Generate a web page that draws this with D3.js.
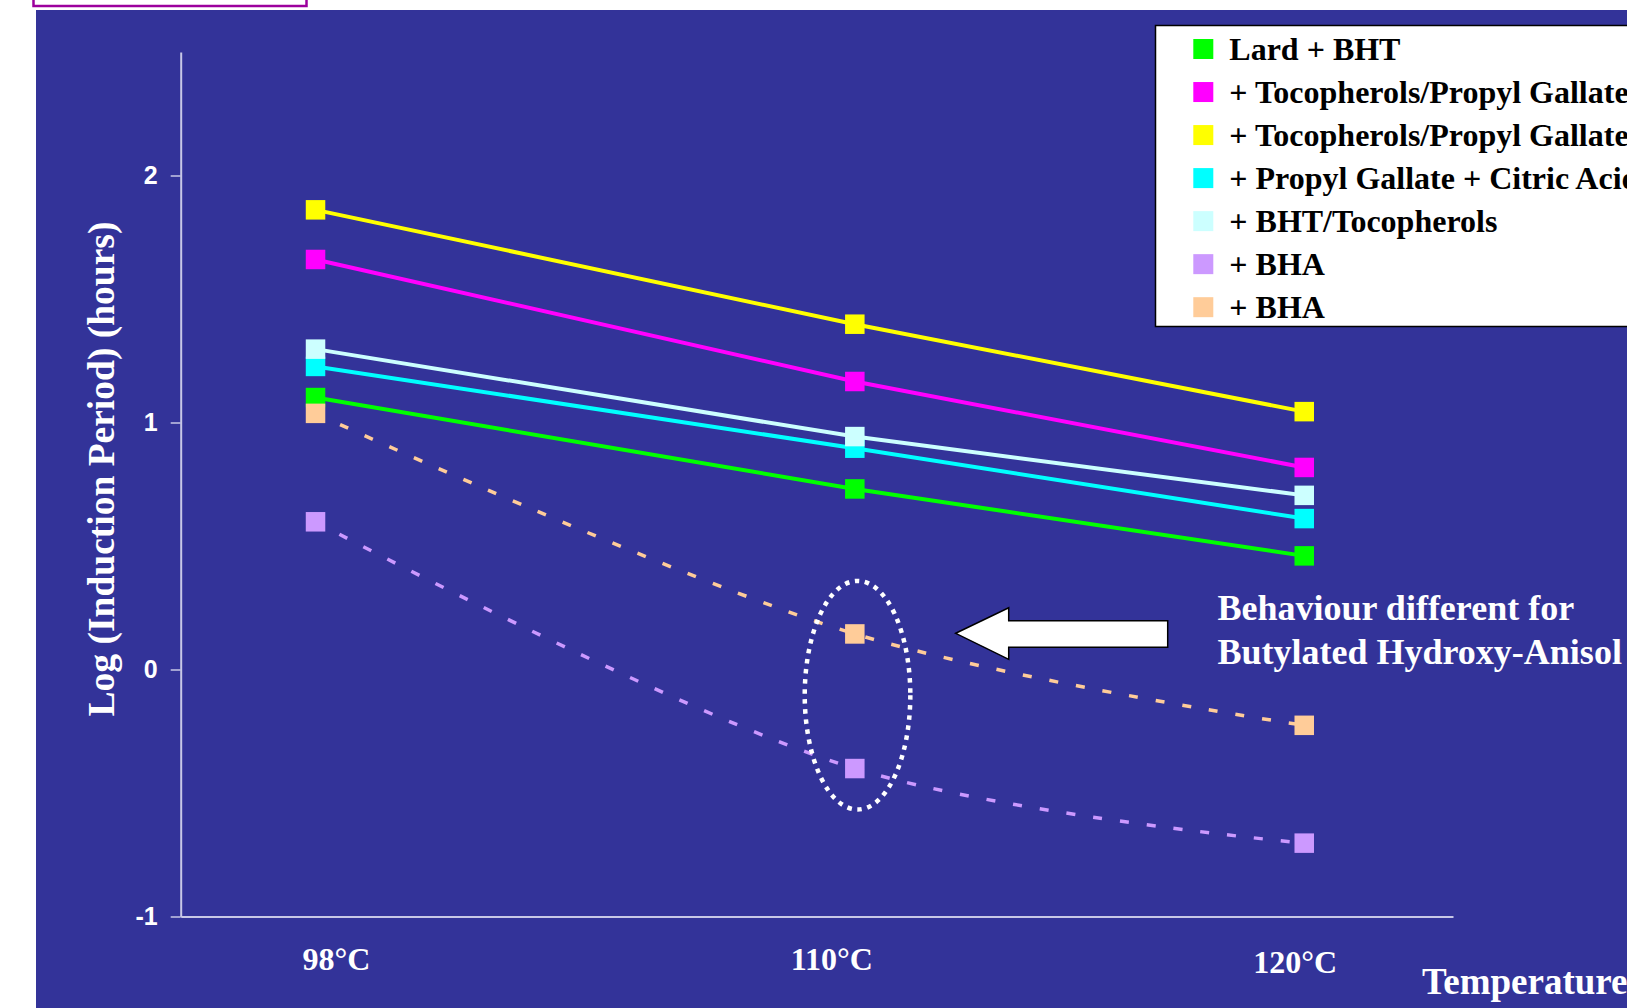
<!DOCTYPE html>
<html>
<head>
<meta charset="utf-8">
<script src="https://cdn.jsdelivr.net/npm/d3@7"></script>
<style>
  html, body { margin: 0; padding: 0; background: #ffffff; overflow: hidden; }
  svg { display: block; }
</style>
</head>
<body>
<svg id="chart" width="1627" height="1008"></svg>
<script>
// Induction temperatures (°C) and log induction period (hours) per antioxidant system
const temperatures = [98, 110, 120];
const tempLabels = ["98°C", "110°C", "120°C"];
const yTicks = [-1, 0, 1, 2];

const seriesNames = [
  "Lard + BHT",
  "+ Tocopherols/Propyl Gallate",
  "+ Tocopherols/Propyl Gallate",
  "+ Propyl Gallate + Citric Acid",
  "+ BHT/Tocopherols",
  "+ BHA",
  "+ BHA"
];
const seriesColors = ["#00ff00", "#ff00ff", "#ffff00", "#00ffff", "#ccffff", "#cc99ff", "#ffcc99"];
const seriesDashed = [false, false, false, false, false, true, true];

const lardBHT      = [1.101, 0.731, 0.460];
const tocoPG1      = [1.660, 1.166, 0.818];
const tocoPG2      = [1.861, 1.398, 1.044];
const pgCitric     = [1.227, 0.896, 0.611];
const bhtToco      = [1.297, 0.943, 0.705];
const bhaLow       = [0.598, -0.401, -0.703];
const bhaHigh      = [1.037, 0.144, -0.226];
const seriesValues = [lardBHT, tocoPG1, tocoPG2, pgCitric, bhtToco, bhaLow, bhaHigh];

const annotationLines = ["Behaviour different for", "Butylated Hydroxy-Anisol"];

// ---- layout ----
const W = 1627, H = 1008;
const BG = "#333399";
const serif = "'Liberation Serif', 'Times New Roman', serif";
const sans = "'Liberation Sans', Arial, sans-serif";
const axisColor = "#c8c8e6";
const tempLabelOffsets = [21, -23, -9];   // label centres relative to their temperature
const tempLabelBaselines = [970, 970, 973];

const svg = d3.select("#chart");

// small framed box peeking in at the top-left
svg.append("rect")
  .attr("x", 33.5).attr("y", -10).attr("width", 273).attr("height", 16)
  .attr("fill", "#ffffff").attr("stroke", "#9c009c").attr("stroke-width", 2.5);

// slide panel
svg.append("rect")
  .attr("x", 36).attr("y", 10).attr("width", W - 36).attr("height", H - 10)
  .attr("fill", BG);

const x = d3.scaleLinear().domain([95, 123.31]).range([180.7, 1453]);
const y = d3.scaleLinear().domain([-1, 2.5]).range([916.5, 52]);

// y axis
const yAxis = svg.append("g")
  .attr("transform", `translate(${x(95)},0)`)
  .call(d3.axisLeft(y).tickValues(yTicks).tickSize(10).tickSizeOuter(0).tickPadding(13)
    .tickFormat(d3.format("d")));
yAxis.select(".domain").attr("stroke", axisColor).attr("stroke-width", 2);
yAxis.selectAll(".tick line").attr("stroke", axisColor).attr("stroke-width", 1.5);
yAxis.selectAll(".tick text")
  .attr("fill", "#ffffff").attr("font-family", sans).attr("font-weight", "bold")
  .attr("font-size", 25).text(d => d < 0 ? "-" + Math.abs(d) : d);

// x axis (line only)
const xAxis = svg.append("g")
  .attr("transform", `translate(0,${y(-1)})`)
  .call(d3.axisBottom(x).tickValues([]).tickSizeOuter(0));
xAxis.select(".domain").attr("stroke", axisColor).attr("stroke-width", 2);

// temperature labels
svg.append("g").selectAll("text")
  .data(temperatures)
  .join("text")
  .attr("x", (d, i) => x(d) + tempLabelOffsets[i])
  .attr("y", (d, i) => tempLabelBaselines[i])
  .attr("text-anchor", "middle")
  .attr("fill", "#ffffff").attr("font-family", serif).attr("font-weight", "bold")
  .attr("font-size", 32)
  .text((d, i) => tempLabels[i]);

svg.append("text")
  .attr("x", 1422).attr("y", 994)
  .attr("fill", "#ffffff").attr("font-family", serif).attr("font-weight", "bold")
  .attr("font-size", 37)
  .text("Temperature");

// y axis title
svg.append("text")
  .attr("transform", "translate(114,469) rotate(-90)")
  .attr("text-anchor", "middle")
  .attr("fill", "#ffffff").attr("font-family", serif).attr("font-weight", "bold")
  .attr("font-size", 37.5)
  .text("Log (Induction Period) (hours)");

// series
const solidLine = d3.line().x(d => x(d.t)).y(d => y(d.v));
const smoothLine = d3.line().x(d => x(d.t)).y(d => y(d.v)).curve(d3.curveCatmullRom.alpha(0.5));
const markerSize = 19.5;

seriesValues.forEach((vals, i) => {
  const pts = vals.map((v, j) => ({ t: temperatures[j], v }));
  const g = svg.append("g").attr("class", "series");
  g.append("path")
    .attr("d", seriesDashed[i] ? smoothLine(pts) : solidLine(pts))
    .attr("fill", "none")
    .attr("stroke", seriesColors[i])
    .attr("stroke-width", seriesDashed[i] ? 3.5 : 4)
    .attr("stroke-dasharray", seriesDashed[i] ? "9,18" : null);
  g.selectAll("rect")
    .data(pts)
    .join("rect")
    .attr("x", d => x(d.t) - markerSize / 2)
    .attr("y", d => y(d.v) - markerSize / 2)
    .attr("width", markerSize).attr("height", markerSize)
    .attr("fill", seriesColors[i]);
});

// dotted ring around the 110°C BHA points
svg.append("ellipse")
  .attr("cx", x(110.06)).attr("cy", y(-0.104))
  .attr("rx", 52.8).attr("ry", 114.3)
  .attr("fill", "none").attr("stroke", "#ffffff")
  .attr("stroke-width", 4.5).attr("stroke-dasharray", "4.5,5.6");

// block arrow pointing at the ring
const arrowPts = [
  [955.7, 633.3], [1008.7, 607.7], [1008.7, 620.7], [1167.7, 620.7],
  [1167.7, 647.3], [1008.7, 647.3], [1008.7, 659.3]
];
svg.append("path")
  .attr("d", d3.line()(arrowPts) + "Z")
  .attr("fill", "#ffffff").attr("stroke", "#000000").attr("stroke-width", 1.5)
  .attr("stroke-linejoin", "miter");

// annotation text
svg.append("g").selectAll("text")
  .data(annotationLines)
  .join("text")
  .attr("x", 1217.5)
  .attr("y", (d, i) => 620 + i * 43.6)
  .attr("fill", "#ffffff").attr("font-family", serif).attr("font-weight", "bold")
  .attr("font-size", 36)
  .text(d => d);

// legend
const legend = svg.append("g");
legend.append("rect")
  .attr("x", 1155.5).attr("y", 25.5).attr("width", 520).attr("height", 301)
  .attr("fill", "#ffffff").attr("stroke", "#000000").attr("stroke-width", 1.5);
const rowY = i => 49 + i * 43.03;
legend.selectAll("rect.key")
  .data(seriesNames)
  .join("rect")
  .attr("class", "key")
  .attr("x", 1193.3).attr("y", (d, i) => rowY(i) - 10)
  .attr("width", 20).attr("height", 20)
  .attr("fill", (d, i) => seriesColors[i]);
legend.selectAll("text")
  .data(seriesNames)
  .join("text")
  .attr("x", 1229.3).attr("y", (d, i) => rowY(i) + 11)
  .attr("fill", "#000000").attr("font-family", serif).attr("font-weight", "bold")
  .attr("font-size", 32)
  .text(d => d);
</script>
</body>
</html>
